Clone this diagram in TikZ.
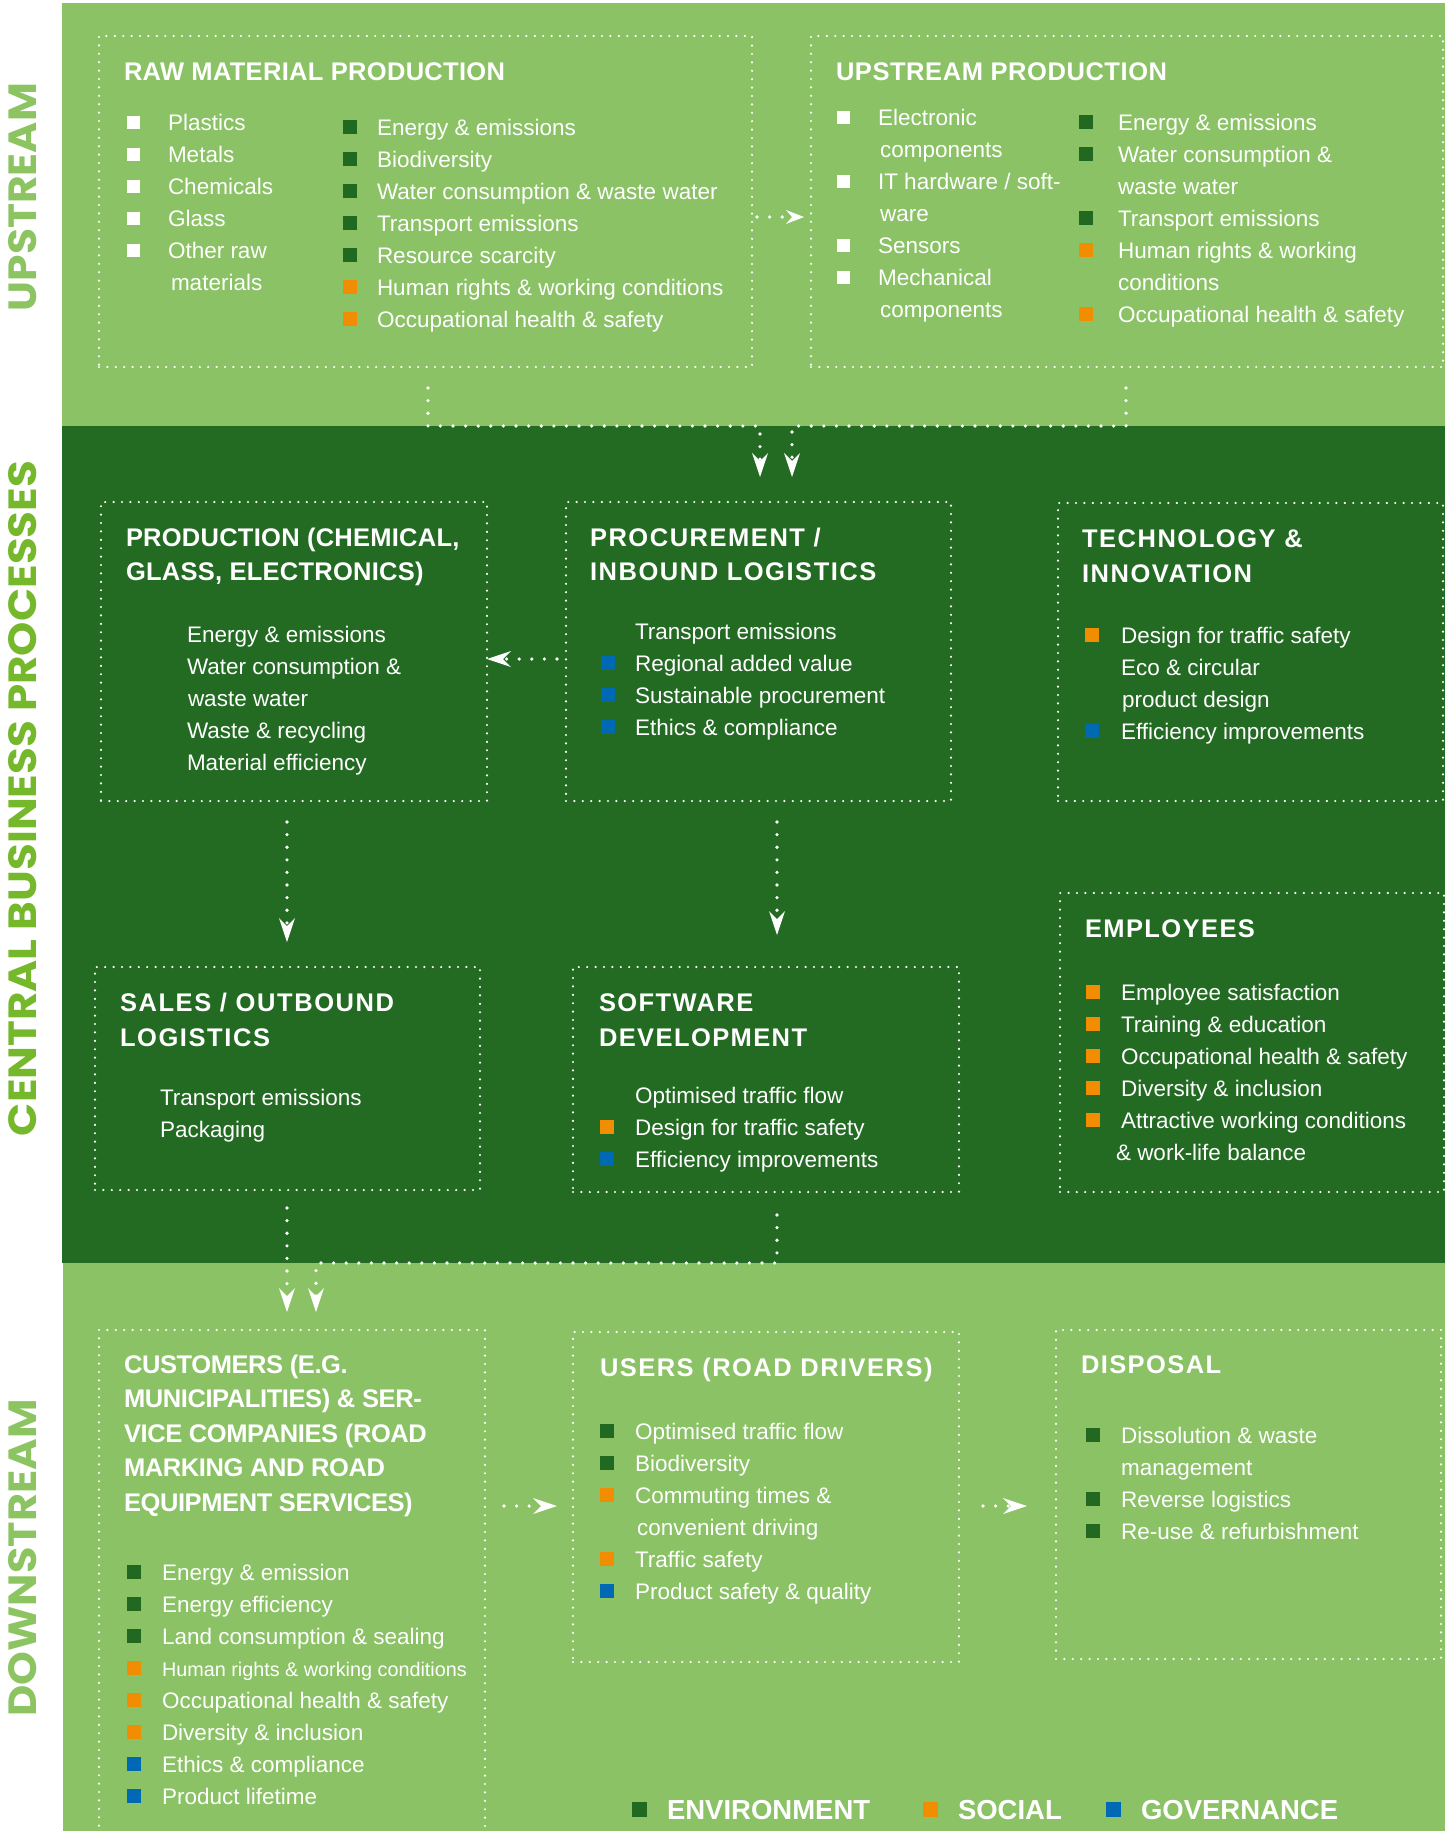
\documentclass[tikz,border=0pt]{standalone}
\usepackage{fontspec}
\setmainfont{Liberation Sans}
\newfontfamily\sidefont{Poppins}
\usepackage{graphicx}
\usetikzlibrary{arrows.meta,calc}
\definecolor{lightg}{RGB}{138,194,101}
\definecolor{darkg}{RGB}{35,106,35}
\definecolor{envc}{RGB}{33,104,33}
\definecolor{socc}{RGB}{241,141,0}
\definecolor{govc}{RGB}{0,105,179}
\definecolor{sidel}{RGB}{140,196,98}
\definecolor{sidec}{RGB}{118,184,44}
\newlength\bulw
\newcommand\bodyfont{\fontsize{22.5}{32}\selectfont}
\newcommand\bi[2]{\hbox{\makebox[\bulw][l]{\color{#1}\rule[1pt]{14pt}{14pt}}#2}}
\newcommand\wi[1]{\hbox{\makebox[\bulw][l]{\color{white}\rule[1.5pt]{12.5pt}{12.5pt}}#1}}
\newcommand\ci[2][0pt]{\hbox{\hspace*{\dimexpr\bulw+#1\relax}#2}}
\newcommand\ilist[2]{\vtop{\bodyfont\setlength\bulw{#1}\baselineskip=32pt\lineskiplimit=-\maxdimen #2}}
\newcommand\tlist[3]{\vtop{\bfseries\fontsize{25.5}{#2}\selectfont\addfontfeature{LetterSpace=#1}\baselineskip=#2pt\lineskiplimit=-\maxdimen #3}}
\begin{document}
\begin{tikzpicture}[x=1pt,y=-1pt,
  dotbox/.style={draw=white, line width=2.4pt, dash pattern=on 0pt off 8.4pt, line cap=round, inner sep=0pt, outer sep=0pt, anchor=north west},
  conn/.style={draw=white, line width=3.6pt, dash pattern=on 0pt off 12.6pt, line cap=round,
     -{Stealth[length=24pt,width=16pt,inset=8pt,line width=0pt]}},
  connsmall/.style={conn, -{Stealth[length=18pt,width=14pt,inset=6pt,line width=0pt]}},
  txt/.style={anchor=base west, inner sep=0pt, outer sep=0pt, text=white},
  side/.style={rotate=90, inner sep=0pt, outer sep=0pt}]
\useasboundingbox (0,0) rectangle (1445,1831);
\clip (0,0) rectangle (1445,1831);
\fill[white] (0,0) rectangle (1445,1831);
\fill[lightg] (62,3) rectangle (1445,426);
\fill[darkg] (62,426) rectangle (1445,1263);
\fill[lightg] (63,1263) rectangle (1445,1831);

% side labels
\node[side, text=sidel] (lblUp) at (23,197) {\resizebox{228pt}{28pt}{\sidefont\bfseries UPSTREAM}};
\node[side, text=sidec] (lblCen) at (23,798.5) {\resizebox{675pt}{28pt}{\sidefont\bfseries CENTRAL BUSINESS PROCESSES}};
\node[side, text=sidel] (lblDown) at (23,1558) {\resizebox{317pt}{28pt}{\sidefont\bfseries DOWNSTREAM}};

% boxes
\node[dotbox, minimum width=653pt, minimum height=331pt] (raw) at (99,36) {};
\node[dotbox, minimum width=632pt, minimum height=331pt] (up) at (811,36) {};
\node[dotbox, minimum width=386pt, minimum height=299pt] (prod) at (101,502) {};
\node[dotbox, minimum width=385pt, minimum height=299pt] (proc) at (566,502) {};
\node[dotbox, minimum width=385pt, minimum height=298pt] (tech) at (1058,503) {};
\node[dotbox, minimum width=385pt, minimum height=223pt] (sales) at (95,967) {};
\node[dotbox, minimum width=386pt, minimum height=225pt] (soft) at (573,967) {};
\node[dotbox, minimum width=384pt, minimum height=299pt] (emp) at (1060,893) {};
\node[dotbox, minimum width=386pt, minimum height=530pt] (cust) at (99,1330) {};
\node[dotbox, minimum width=386pt, minimum height=330pt] (users) at (573,1332) {};
\node[dotbox, minimum width=385pt, minimum height=329pt] (disp) at (1056,1330) {};

% raw material production
\node[txt] (rawT) at (124,80) {\tlist{1.2}{34.5}{\hbox{RAW MATERIAL PRODUCTION}}};
\node[txt] (rawA) at (127,130) {\ilist{41pt}{\wi{Plastics}\wi{Metals}\wi{Chemicals}\wi{Glass}\wi{Other raw}\ci[3pt]{materials}}};
\node[txt] (rawB) at (343,135) {\ilist{34pt}{\bi{envc}{Energy \& emissions}\bi{envc}{Biodiversity}\bi{envc}{Water consumption \& waste water}\bi{envc}{Transport emissions}\bi{envc}{Resource scarcity}\bi{socc}{Human rights \& working conditions}\bi{socc}{Occupational health \& safety}}};

% upstream production
\node[txt] (upT) at (836,80) {\tlist{2.2}{34.5}{\hbox{UPSTREAM PRODUCTION}}};
\node[txt] (upA) at (837,125) {\ilist{41pt}{\wi{Electronic}\ci[2pt]{components}\wi{IT hardware / soft-}\ci[2pt]{ware}\wi{Sensors}\wi{Mechanical}\ci[2pt]{components}}};
\node[txt] (upB) at (1079,130) {\ilist{39pt}{\bi{envc}{Energy \& emissions}\bi{envc}{Water consumption \&}\ci{waste water}\bi{envc}{Transport emissions}\bi{socc}{Human rights \& working}\ci{conditions}\bi{socc}{Occupational health \& safety}}};

% production
\node[txt] (prodT) at (126,546) {\tlist{1}{34}{\hbox{PRODUCTION (CHEMICAL,}\hbox{GLASS, ELECTRONICS)}}};
\node[txt] (prodI) at (187,642) {\ilist{0pt}{\ci{Energy \& emissions}\ci{Water consumption \&}\ci[1pt]{waste water}\ci{Waste \& recycling}\ci{Material efficiency}}};

% procurement
\node[txt] (procT) at (590,546) {\tlist{6}{34}{\hbox{PROCUREMENT /}\hbox{INBOUND LOGISTICS}}};
\node[txt] (procI) at (601,639) {\ilist{34pt}{\ci{Transport emissions}\bi{govc}{Regional added value}\bi{govc}{Sustainable procurement}\bi{govc}{Ethics \& compliance}}};

% technology
\node[txt] (techT) at (1082,547) {\tlist{6}{35}{\hbox{TECHNOLOGY \&}\hbox{INNOVATION}}};
\node[txt] (techI) at (1085,643) {\ilist{36pt}{\bi{socc}{Design for traffic safety}\ci{Eco \& circular}\ci[1pt]{product design}\bi{govc}{Efficiency improvements}}};

% sales
\node[txt] (salesT) at (120,1011) {\tlist{6.2}{35}{\hbox{SALES / OUTBOUND}\hbox{LOGISTICS}}};
\node[txt] (salesI) at (160,1105) {\ilist{0pt}{\ci{Transport emissions}\ci{Packaging}}};

% software
\node[txt] (softT) at (599,1011) {\tlist{5.5}{35}{\hbox{SOFTWARE}\hbox{DEVELOPMENT}}};
\node[txt] (softI) at (600,1103) {\ilist{35pt}{\ci{Optimised traffic flow}\bi{socc}{Design for traffic safety}\bi{govc}{Efficiency improvements}}};

% employees
\node[txt] (empT) at (1085,937) {\tlist{5.5}{35}{\hbox{EMPLOYEES}}};
\node[txt] (empI) at (1086,1000) {\ilist{35pt}{\bi{socc}{Employee satisfaction}\bi{socc}{Training \& education}\bi{socc}{Occupational health \& safety}\bi{socc}{Diversity \& inclusion}\bi{socc}{Attractive working conditions}\ci[-5pt]{\& work-life balance}}};

% customers
\node[txt] (custT) at (124,1373) {\tlist{-1.6}{34.5}{\hbox{CUSTOMERS (E.G.}\hbox{MUNICIPALITIES) \& SER-}\hbox{VICE COMPANIES (ROAD}\hbox{MARKING AND ROAD}\hbox{EQUIPMENT SERVICES)}}};
\node[txt] (custI) at (127,1580) {\ilist{35pt}{\bi{envc}{Energy \& emission}\bi{envc}{Energy efficiency}\bi{envc}{Land consumption \& sealing}\bi{socc}{\fontsize{19.8}{32}\selectfont Human rights \& working conditions}\bi{socc}{Occupational health \& safety}\bi{socc}{Diversity \& inclusion}\bi{govc}{Ethics \& compliance}\bi{govc}{Product lifetime}}};

% users
\node[txt] (usersT) at (600,1376) {\tlist{5.8}{34.5}{\hbox{USERS (ROAD DRIVERS)}}};
\node[txt] (usersI) at (600,1439) {\ilist{35pt}{\bi{envc}{Optimised traffic flow}\bi{envc}{Biodiversity}\bi{socc}{Commuting times \&}\ci[2pt]{convenient driving}\bi{socc}{Traffic safety}\bi{govc}{Product safety \& quality}}};

% disposal
\node[txt] (dispT) at (1081,1373) {\tlist{5.5}{34.5}{\hbox{DISPOSAL}}};
\node[txt] (dispI) at (1086,1443) {\ilist{35pt}{\bi{envc}{Dissolution \& waste}\ci{management}\bi{envc}{Reverse logistics}\bi{envc}{Re-use \& refurbishment}}};

% legend
\node[txt, font=\bfseries\fontsize{27.5}{30}\selectfont] (legE) at (632,1819) {\textcolor{envc}{\rule[2pt]{15pt}{15pt}}\hspace{20pt}ENVIRONMENT};
\node[txt, font=\bfseries\fontsize{27.5}{30}\selectfont] (legS) at (923,1819) {\textcolor{socc}{\rule[2pt]{15pt}{15pt}}\hspace{20pt}SOCIAL};
\node[txt, font=\bfseries\fontsize{27.5}{30}\selectfont] (legG) at (1106,1819) {\textcolor{govc}{\rule[2pt]{15pt}{15pt}}\hspace{20pt}GOVERNANCE};

% connectors
\draw[connsmall] ($(raw.east)+(5,15.5)$) -- ($(up.west)+(-7,15.5)$);
\draw[conn] ($(raw.south)+(2.5,21)$) -- ++(0,38) -| ($(proc.north)+(1.5,-25)$);
\draw[conn] ($(up.south)+(-1,21)$) -- ++(0,38) -| ($(proc.north)+(33.5,-25)$);
\draw[conn] ($(proc.west)+(-9,7.5)$) -- ($(prod.east)+(0,7.5)$);
\draw[conn] ($(prod.south)+(-7,21)$) -- ($(sales.north)+(-0.5,-25)$);
\draw[conn] ($(proc.south)+(18.5,21)$) -- ($(soft.north)+(11,-32)$);
\draw[conn] ($(sales.south)+(-0.5,18)$) -- ($(cust.north)+(-5,-18)$);
\draw[conn] ($(soft.south)+(11,23)$) -- ++(0,48) -| ($(cust.north)+(24,-18)$);
\draw[conn] ($(cust.east |- users.west)+(19,9)$) -- ($(users.west)+(-16,9)$);
\draw[conn] ($(users.east)+(24,9)$) -- ($(disp.west |- users.east)+(-29,9)$);
\end{tikzpicture}
\end{document}
